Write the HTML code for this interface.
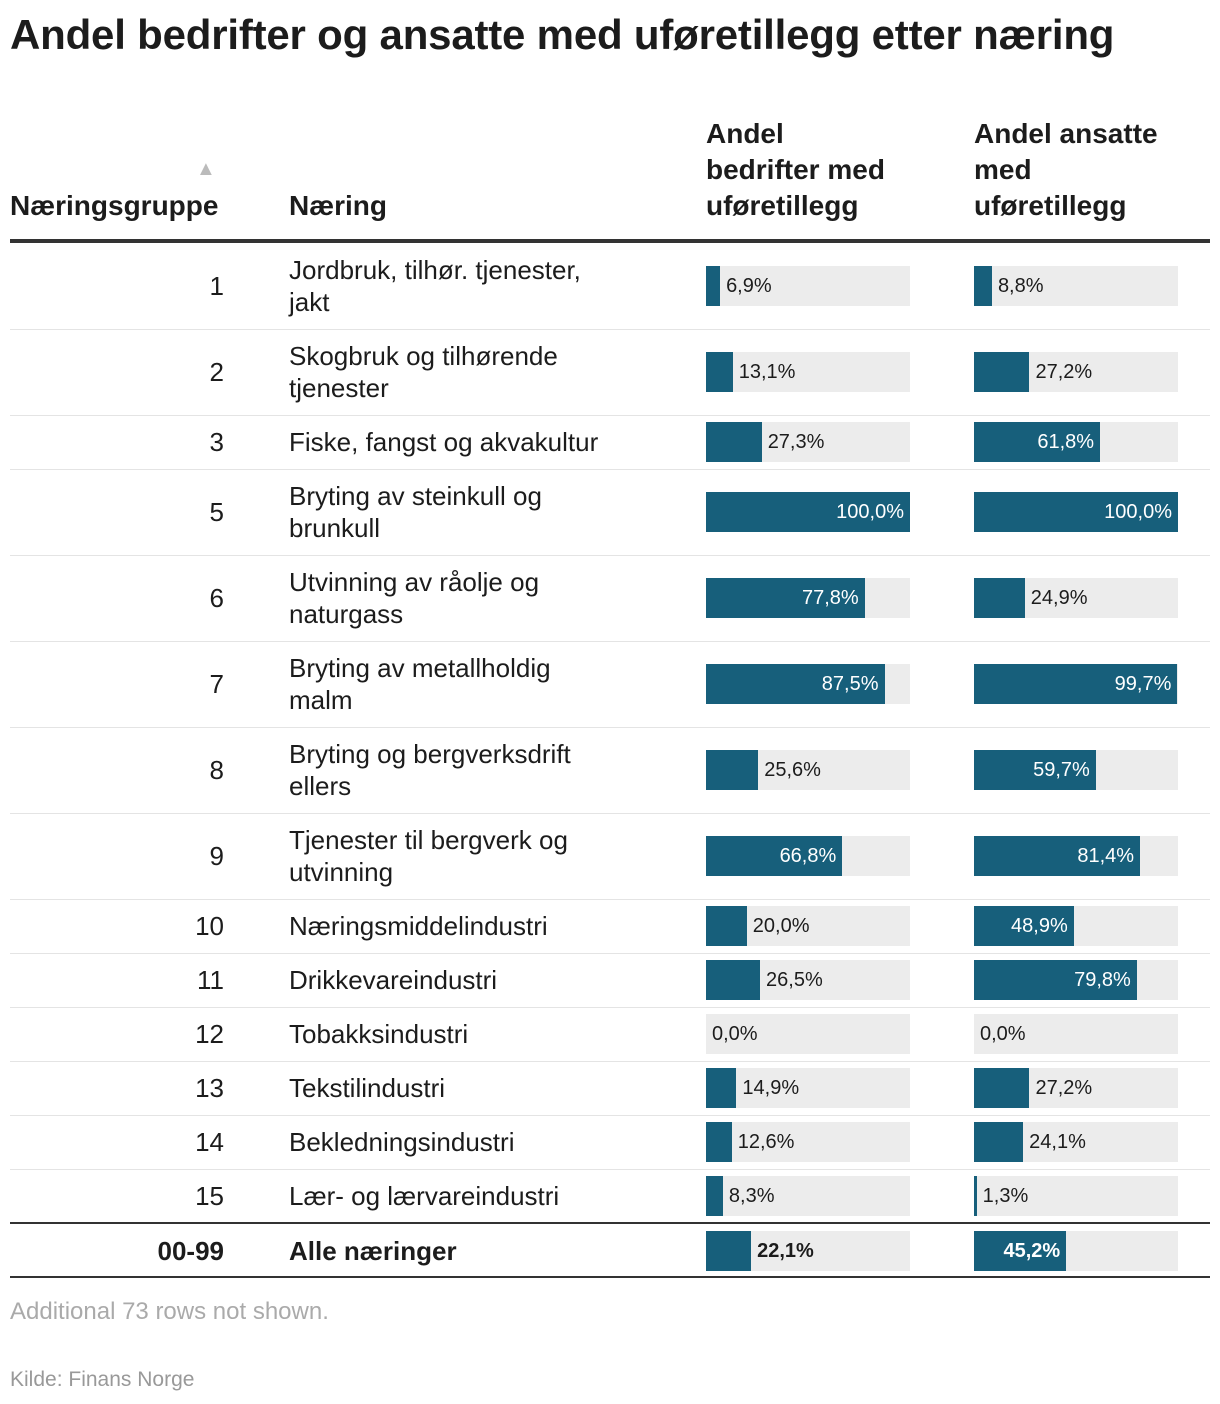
<!DOCTYPE html>
<html><head><meta charset="utf-8"><style>
body{margin:0;width:1220px;height:1404px;background:#fff;font-family:"Liberation Sans",sans-serif;color:#1c1c1c;position:relative;overflow:hidden}
.a{position:absolute;white-space:nowrap}
.h{font-weight:bold;font-size:28px;line-height:36px}
.t{font-size:26px;line-height:32px}
.bg{position:absolute;background:#ececec;height:40px;width:204px}
.bar{position:absolute;left:0;top:0;height:40px;background:#175f7b}
.lbl{position:absolute;top:0;line-height:40px;font-size:20px}
</style></head><body>
<div class="a" style="left:10px;top:10px;font-size:42px;font-weight:bold;line-height:50px;letter-spacing:-0.2px">Andel bedrifter og ansatte med uføretillegg etter næring</div>
<div class="a" style="left:196px;top:158px;font-size:20px;color:#bbb">▲</div>
<div class="a h" style="left:10px;top:188px">Næringsgruppe</div>
<div class="a h" style="left:289px;top:188px">Næring</div>
<div class="a h" style="left:706px;top:116px">Andel<br>bedrifter med<br>uføretillegg</div>
<div class="a h" style="left:974px;top:116px">Andel ansatte<br>med<br>uføretillegg</div>
<div class="a" style="left:10px;top:239px;width:1200px;height:4px;background:#333"></div>
<div id="rows"></div>
<div class="a" style="left:10px;top:1298px;font-size:24px;color:#aaa">Additional 73 rows not shown.</div>
<div class="a" style="left:10px;top:1368px;font-size:21px;color:#999">Kilde: Finans Norge</div>
<script>
const codes=["1","2","3","5","6","7","8","9","10","11","12","13","14","15","00-99"];
const names=["Jordbruk, tilhør. tjenester,|jakt","Skogbruk og tilhørende|tjenester","Fiske, fangst og akvakultur","Bryting av steinkull og|brunkull","Utvinning av råolje og|naturgass","Bryting av metallholdig|malm","Bryting og bergverksdrift|ellers","Tjenester til bergverk og|utvinning","Næringsmiddelindustri","Drikkevareindustri","Tobakksindustri","Tekstilindustri","Bekledningsindustri","Lær- og lærvareindustri","Alle næringer"];
const bedrifter=[6.9,13.1,27.3,100,77.8,87.5,25.6,66.8,20.0,26.5,0.0,14.9,12.6,8.3,22.1];
const ansatte=[8.8,27.2,61.8,100,24.9,99.7,59.7,81.4,48.9,79.8,0.0,27.2,24.1,1.3,45.2];
const root=document.getElementById('rows');
const fmt=v=>v.toFixed(1).replace('.',',')+'%';
let y=243;
function mk(cls,css,txt){const d=document.createElement('div');d.className=cls;d.style.cssText=css;if(txt!==undefined)d.innerHTML=txt;root.appendChild(d);return d;}
function barCell(parent,v,total,name){
  const w=v/100*204;
  const bar=document.createElement('div');bar.className='bar';bar.style.width=w+'px';
  
  
  parent.appendChild(bar);
  const l=document.createElement('div');l.className='lbl';l.textContent=fmt(v);
  
  
  if(total)l.style.fontWeight='bold';
  if(w>84){l.style.right=(204-w+6)+'px';l.style.color='#fff';}else{l.style.left=(w+6)+'px';}
  parent.appendChild(l);
}
codes.forEach((c,i)=>{
  const total=i===codes.length-1;
  const two=names[i].includes('|');
  const h=i===0?86:(two?86:54);
  const top=total?y+1:y;
  const tc=top+h/2;
  const code=mk('a t','right:'+(1220-224)+'px;top:'+(tc-16)+'px;'+(total?'font-weight:bold':''),c);
  
  
  const nm=mk('a t','left:289px;top:'+(tc-(two?32:16))+'px;'+(total?'font-weight:bold':''),names[i].replace('|','<br>'));
  
  
  const b1=mk('bg','left:706px;top:'+(tc-20)+'px');
  
  
  barCell(b1,bedrifter[i],total,'bedrifter-'+c);
  const b2=mk('bg','left:974px;top:'+(tc-20)+'px');
  
  
  barCell(b2,ansatte[i],total,'ansatte-'+c);
  y=top+h;
  const line=mk('a','left:10px;width:1200px;top:'+(total?y-2:(i===codes.length-2?y-1:y))+'px;height:'+(total||i===codes.length-2?2:1)+'px;background:'+(total||i===codes.length-2?'#333':'#e4e4e4'));
  
  
});
</script>
</body></html>
